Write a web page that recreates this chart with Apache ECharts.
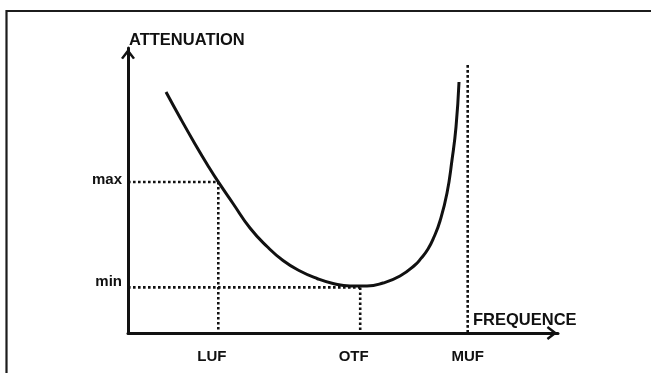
<!DOCTYPE html>
<html>
<head>
<meta charset="utf-8">
<title>Attenuation vs frequency</title>
<style>
html, body { margin: 0; padding: 0; background: #fff; }
#chart { width: 651px; height: 373px; }
</style>
<script src="https://cdn.jsdelivr.net/npm/echarts@6/dist/echarts.min.js"></script>
</head>
<body>
<div id="chart"></div>
<script>
// Path attenuation as a function of operating frequency (arbitrary units)
const freq = [8.84, 12.09, 15.58, 18.60, 21.0, 24.42, 28.37, 32.33, 36.05, 40.0, 43.95, 47.67,
              51.63, 55.58, 59.30, 63.26, 66.74, 68.14, 69.77, 71.16, 72.56, 74.19, 75.35, 76.28, 76.98];
const attenuation = [84.56, 75.61, 66.35, 58.70, 53.0, 45.44, 36.84, 30.35, 25.44, 21.75, 19.12, 17.37,
                     16.49, 16.49, 17.54, 20.0, 23.86, 26.18, 29.47, 33.68, 39.30, 49.12, 60.70, 72.28, 88.07];

// Characteristic frequencies and attenuation levels
const freqNames = ['LUF', 'OTF', 'MUF'];
const freqValues = [21, 54, 79];
const levelNames = ['min', 'max'];
const levelValues = [16, 53];
const mufLineTop = 94;

const INK = '#111';
const FONT = '"Liberation Sans", Arial, Helvetica, sans-serif';

const curve = freq.map((f, i) => [f, attenuation[i]]);

const [luf, otf, muf] = freqValues;
const [attMin, attMax] = levelValues;
const guides = [
  [[0, attMax], [luf, attMax]],
  [[luf, attMax], [luf, 0]],
  [[0, attMin], [otf, attMin]],
  [[otf, attMin], [otf, 0]],
  [[muf, mufLineTop], [muf, 0]]
];

const arrowPath = 'path://M7,0 L14,9.2 L12,10.6 L7,4.2 L2,10.6 L0,9.2 Z';

const chart = echarts.init(document.getElementById('chart'), null, { renderer: 'canvas' });

chart.setOption({
  animation: false,
  backgroundColor: '#fff',
  grid: { left: 128, top: 48, right: 93, bottom: 40, outerBoundsMode: 'none' },
  graphic: [{
    type: 'rect',
    silent: true,
    z: -10,
    shape: { x: 6.5, y: 11, width: 720, height: 420 },
    style: { fill: 'none', stroke: '#1c1c1c', lineWidth: 2.2 }
  }],
  xAxis: {
    type: 'value',
    min: 0,
    max: 100,
    name: '{n|FREQUENCE}',
    nameLocation: 'end',
    nameGap: -85,
    nameMoveOverlap: false,
    nameTextStyle: {
      color: INK, fontFamily: FONT, fontWeight: 'bold', fontSize: 16.5,
      align: 'left', verticalAlign: 'middle',
      rich: {
        n: { color: INK, fontFamily: FONT, fontWeight: 'bold', fontSize: 16.5, padding: [0, 0, 26, 0] }
      }
    },
    axisLine: {
      show: true, onZero: false,
      symbol: ['none', arrowPath], symbolSize: [14, 12], symbolOffset: [0, -6],
      lineStyle: { color: INK, width: 3 }
    },
    axisTick: { show: false },
    splitLine: { show: false },
    axisLabel: {
      customValues: freqValues,
      margin: 16,
      color: INK, fontFamily: FONT, fontWeight: 'bold', fontSize: 15,
      formatter: v => {
        const i = freqValues.indexOf(v);
        if (i < 0) return '';
        return i < 2 ? '{s|' + freqNames[i] + '}' : '{c|' + freqNames[i] + '}';
      },
      rich: {
        s: { color: INK, fontFamily: FONT, fontWeight: 'bold', fontSize: 15, padding: [0, 13, 0, 0] },
        c: { color: INK, fontFamily: FONT, fontWeight: 'bold', fontSize: 15 }
      }
    }
  },
  yAxis: {
    type: 'value',
    min: 0,
    max: 100,
    name: 'ATTENUATION',
    nameLocation: 'end',
    nameGap: 8,
    nameMoveOverlap: false,
    nameTextStyle: {
      color: INK, fontFamily: FONT, fontWeight: 'bold', fontSize: 16.5,
      align: 'left', verticalAlign: 'middle', padding: [0, 0, 0, 1]
    },
    axisLine: {
      show: true, onZero: false,
      symbol: ['none', arrowPath], symbolSize: [14, 12], symbolOffset: [0, -6],
      lineStyle: { color: INK, width: 3 }
    },
    axisTick: { show: false },
    splitLine: { show: false },
    axisLabel: {
      customValues: levelValues,
      margin: 6,
      color: INK, fontFamily: FONT, fontWeight: 'bold', fontSize: 15,
      formatter: v => {
        const i = levelValues.indexOf(v);
        if (i < 0) return '';
        return i === 0 ? '{lo|' + levelNames[i] + '}' : '{hi|' + levelNames[i] + '}';
      },
      rich: {
        lo: { color: INK, fontFamily: FONT, fontWeight: 'bold', fontSize: 15, padding: [0, 0, 12, 0] },
        hi: { color: INK, fontFamily: FONT, fontWeight: 'bold', fontSize: 15, padding: [0, 0, 4, 0] }
      }
    }
  },
  series: guides.map(seg => ({
    type: 'line',
    data: seg,
    symbol: 'none',
    silent: true,
    z: 2,
    lineStyle: { color: INK, width: 2.6, type: [2.6, 2.4], cap: 'butt' }
  })).concat([{
    type: 'line',
    name: 'attenuation',
    data: curve,
    symbol: 'none',
    smooth: 0.5,
    silent: true,
    z: 3,
    lineStyle: { color: INK, width: 3 }
  }])
});
</script>
</body>
</html>
